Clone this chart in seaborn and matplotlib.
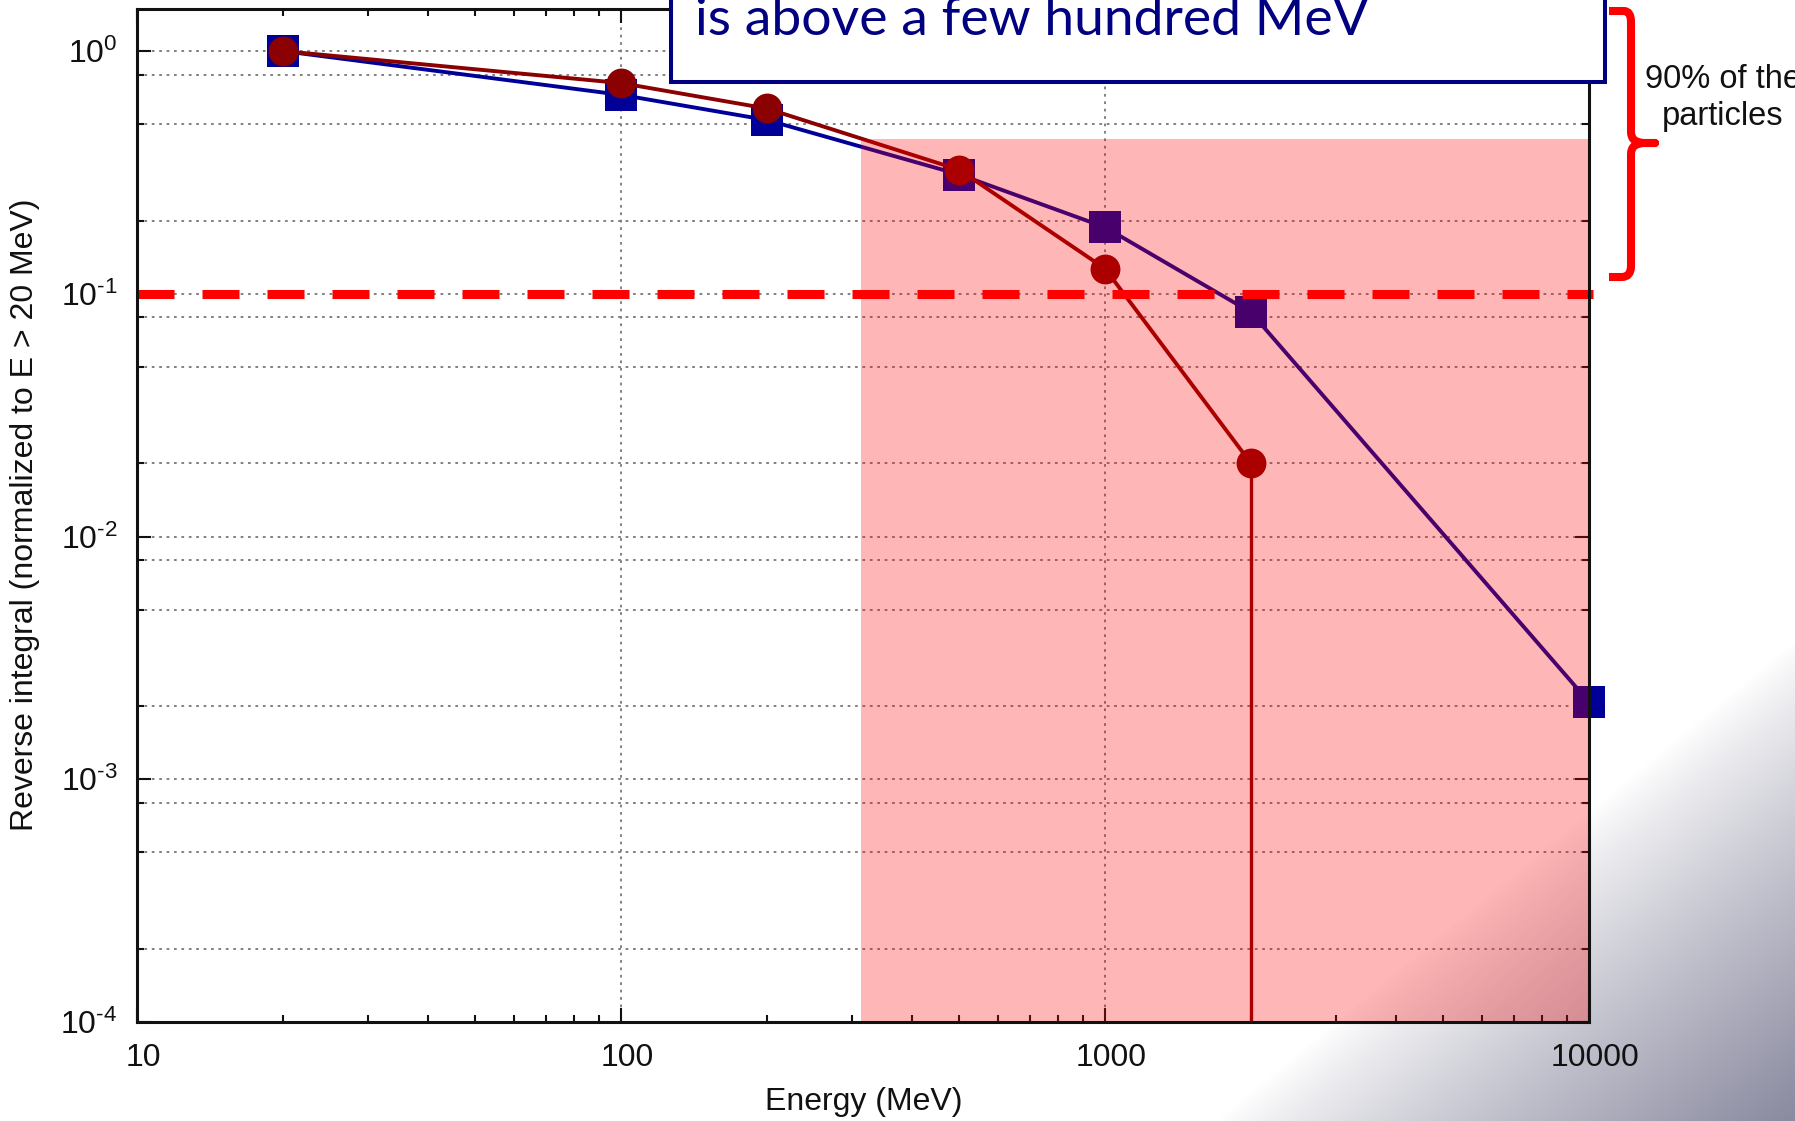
import numpy as np
import pandas as pd
import matplotlib
matplotlib.use("Agg")
import matplotlib.pyplot as plt
import matplotlib.transforms as mtransforms
import seaborn as sns
from matplotlib.patches import Rectangle, PathPatch
from matplotlib.path import Path
from matplotlib.ticker import LogLocator, FuncFormatter, NullFormatter, FixedLocator, FixedFormatter

# ---------------- data ----------------
energy_blue = [20, 100, 200, 500, 1000, 2000, 10000]
integral_blue = [1.0, 0.66, 0.52, 0.31, 0.188, 0.084, 0.00208]
energy_red = [20, 100, 200, 500, 1000, 2000]
integral_red = [1.0, 0.738, 0.58, 0.324, 0.127, 0.0201]
threshold_level = 0.1
shade_energy = [313, 10000]
shade_top = 0.434
x_ticks = [10, 100, 1000, 10000]
x_tick_labels = ["10", "100", "1000", "10000"]
y_ticks = [1e-4, 1e-3, 1e-2, 1e-1, 1e0]
y_tick_exponents = ["-4", "-3", "-2", "-1", "0"]
x_label = "Energy (MeV)"
y_label = "Reverse integral (normalized to E > 20 MeV)"
box_text = "is above a few hundred MeV"
brace_text = ["90% of the", "particles"]

# ---------------- style ----------------
sns.set_style("ticks")
plt.rcParams["font.family"] = ["Liberation Sans", "DejaVu Sans"]
plt.rcParams["mathtext.fontset"] = "custom"
plt.rcParams["mathtext.rm"] = "Liberation Sans"
plt.rcParams["mathtext.it"] = "Liberation Sans:italic"
plt.rcParams["mathtext.bf"] = "Liberation Sans:bold"

W, H = 1795, 1121
fig = plt.figure(figsize=(W / 100, H / 100), dpi=100)
fig.patch.set_facecolor("white")

# slide background gradient (decoration)
bg = fig.add_axes([0, 0, 1, 1], zorder=-10)
bg.axis("off")
yy, xx = np.mgrid[0:H, 0:W]
t = np.clip((0.83 * xx + yy - 2130) / 480.0, 0, 1) ** 0.85
white = np.array([1.0, 1.0, 1.0])
corner = np.array([138, 138, 160]) / 255.0
img = white[None, None, :] * (1 - t[..., None]) + corner[None, None, :] * t[..., None]
bg.imshow(img, extent=[0, 1, 0, 1], aspect="auto", origin="upper", interpolation="bilinear")
bg.set_xlim(0, 1)
bg.set_ylim(0, 1)

ax = fig.add_axes([137 / W, 1 - 1022 / H, (1589 - 137) / W, (1022 - 9) / H])
ax.set_facecolor("none")

blue = "#000099"
dred = "#8b0000"

ax.set_xscale("log")
ax.set_yscale("log")

sns.lineplot(x=energy_blue, y=integral_blue, ax=ax, color=blue, marker="s", markersize=22.5,
             markeredgecolor=blue, markeredgewidth=0, lw=2.8, estimator=None, sort=False,
             legend=False, zorder=3, clip_on=False)
sns.lineplot(x=energy_red, y=integral_red, ax=ax, color=dred, marker="o", markersize=21.5,
             markeredgecolor=dred, markeredgewidth=0, lw=2.8, estimator=None, sort=False,
             legend=False, zorder=3, clip_on=False)

ax.set_xlim(10, 10000)
ax.set_ylim(1e-4, 1.49)
# drop of the red curve to zero beyond its last point
ax.vlines(energy_red[-1], 1e-5, integral_red[-1], color=dred, lw=2.4, zorder=3)

# shaded region (semi-transparent overlay)
ax.add_patch(Rectangle((shade_energy[0], 1e-5), shade_energy[1] - shade_energy[0], shade_top - 1e-5,
                       facecolor=(1, 0, 0, 0.286), edgecolor="none", zorder=4))

# threshold dashed line
ax.axhline(threshold_level, xmin=0, xmax=1.003, color="red", lw=6.5, dashes=(4.1, 3.1),
           dash_capstyle="butt", zorder=5, clip_on=False)

# ticks / grid
ax.xaxis.set_major_locator(FixedLocator(x_ticks))
ax.xaxis.set_major_formatter(FixedFormatter(x_tick_labels))
ax.xaxis.set_minor_locator(LogLocator(base=10, subs=np.arange(2, 10)))
ax.xaxis.set_minor_formatter(NullFormatter())
ax.yaxis.set_major_locator(FixedLocator(y_ticks))
ax.yaxis.set_major_formatter(FixedFormatter(
    [r"$\mathdefault{10^{%s}}$" % e.replace("-", "\u2010") for e in y_tick_exponents]))
ax.yaxis.set_minor_locator(LogLocator(base=10, subs=(2.0, 5.0, 8.0)))
ax.yaxis.set_minor_formatter(NullFormatter())

grid_kw = dict(color="#777777", lw=1.3, linestyle=(0, (1.5, 2.6)))
ax.grid(True, which="major", axis="x", **grid_kw)
ax.grid(True, which="both", axis="y", **grid_kw)

ax.tick_params(which="both", direction="in", top=True, right=True, width=1.5, color="#111111")
ax.tick_params(which="major", length=10)
ax.tick_params(which="minor", length=5)
ax.tick_params(axis="x", which="major", labelsize=23, pad=15, labelcolor="#111111")
ax.tick_params(axis="y", which="major", labelsize=23, pad=14, labelcolor="#111111")

for s in ax.spines.values():
    s.set_linewidth(2.2)
    s.set_color("#111111")
    s.set_zorder(6)

ax.set_xlabel(x_label, fontsize=23, color="#111111")
ax.set_ylabel(y_label, fontsize=23, color="#111111")
ax.xaxis.set_label_coords((864 - 137) / 1452, -(1102 - 1022) / 1013)
ax.xaxis.label.set_va("center")
ax.yaxis.set_label_coords((25 - 137) / 1452, (1022 - 515) / 1013)
ax.yaxis.label.set_va("center")

# small rightward offset of x tick labels, as in the reference
shift = mtransforms.ScaledTranslation(6 / 100, 0, fig.dpi_scale_trans)
for tk in ax.xaxis.get_major_ticks():
    tk.label1.set_transform(tk.label1.get_transform() + shift)

# ---------------- annotations (figure pixel coordinates) ----------------
def fx(x):
    return x / W

def fy(y):
    return 1 - y / H

fig.add_artist(Rectangle((fx(671), fy(82)), fx(1605) - fx(671), 0.3, transform=fig.transFigure,
                         facecolor="white", edgecolor="#000080", lw=2.9, zorder=10, clip_on=False))
fig.text(fx(695), fy(35), box_text, fontsize=38.5, color="#000080", family=["Lato", "DejaVu Sans"],
         ha="left", va="baseline", zorder=11)

brace_pts = [(1609, 11), (1624, 11), (1631, 11), (1631, 22), (1631, 132), (1631, 143), (1645, 143),
             (1655, 143), (1645, 143), (1631, 143), (1631, 154), (1631, 266), (1631, 277), (1622, 277),
             (1609, 277)]
codes = [Path.MOVETO, Path.LINETO, Path.CURVE3, Path.CURVE3, Path.LINETO, Path.CURVE3, Path.CURVE3,
         Path.LINETO, Path.LINETO, Path.CURVE3, Path.CURVE3, Path.LINETO, Path.CURVE3, Path.CURVE3,
         Path.LINETO]
brace = Path([(fx(x), fy(y)) for x, y in brace_pts], codes)
fig.add_artist(PathPatch(brace, transform=fig.transFigure, fill=False, edgecolor="red", lw=5.8,
                         capstyle="butt", joinstyle="round", zorder=10))
fig.text(fx(1723), fy(88), brace_text[0], fontsize=23.5, ha="center", va="baseline", color="#111111")
fig.text(fx(1723), fy(125), brace_text[1], fontsize=23.5, ha="center", va="baseline", color="#111111")

fig.savefig("out.png", dpi=100)
